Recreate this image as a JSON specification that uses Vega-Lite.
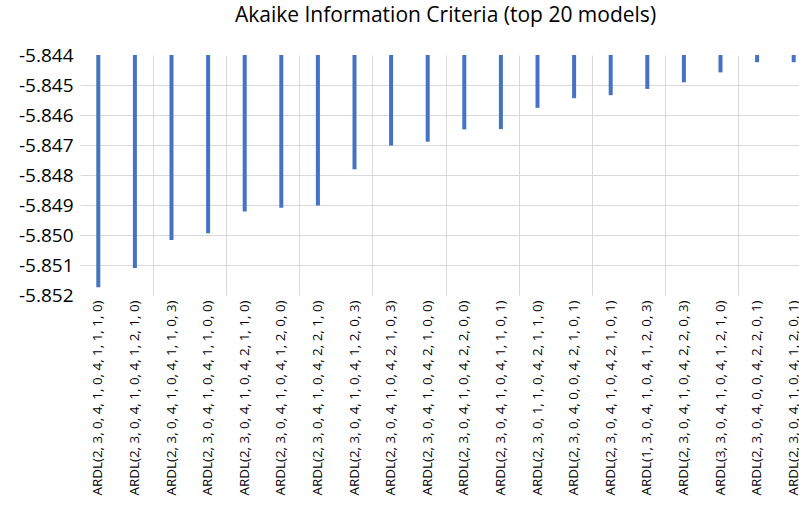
{
  "$schema": "https://vega.github.io/schema/vega-lite/v6.json",
  "autosize": "none",
  "width": 719,
  "height": 240,
  "padding": {"left": 80, "top": 55, "right": 0, "bottom": 215},
  "background": "white",
  "title": {
    "text": "Akaike Information Criteria (top 20 models)",
    "font": "Open Sans",
    "fontSize": 21,
    "fontWeight": "normal",
    "color": "#000000",
    "anchor": "middle",
    "dx": 6,
    "offset": 20
  },
  "data": {
    "values": [
      {"model": "ARDL(2, 3, 0, 4, 1, 0, 4, 1, 1, 1, 0)", "aic": -5.85174},
      {"model": "ARDL(2, 3, 0, 4, 1, 0, 4, 1, 2, 1, 0)", "aic": -5.8511},
      {"model": "ARDL(2, 3, 0, 4, 1, 0, 4, 1, 1, 0, 3)", "aic": -5.85017},
      {"model": "ARDL(2, 3, 0, 4, 1, 0, 4, 1, 1, 0, 0)", "aic": -5.84994},
      {"model": "ARDL(2, 3, 0, 4, 1, 0, 4, 2, 1, 1, 0)", "aic": -5.84922},
      {"model": "ARDL(2, 3, 0, 4, 1, 0, 4, 1, 2, 0, 0)", "aic": -5.84909},
      {"model": "ARDL(2, 3, 0, 4, 1, 0, 4, 2, 2, 1, 0)", "aic": -5.84902},
      {"model": "ARDL(2, 3, 0, 4, 1, 0, 4, 1, 2, 0, 3)", "aic": -5.84781},
      {"model": "ARDL(2, 3, 0, 4, 1, 0, 4, 2, 1, 0, 3)", "aic": -5.84702},
      {"model": "ARDL(2, 3, 0, 4, 1, 0, 4, 2, 1, 0, 0)", "aic": -5.84689},
      {"model": "ARDL(2, 3, 0, 4, 1, 0, 4, 2, 2, 0, 0)", "aic": -5.84648},
      {"model": "ARDL(2, 3, 0, 4, 1, 0, 4, 1, 1, 0, 1)", "aic": -5.84647},
      {"model": "ARDL(2, 3, 0, 1, 1, 0, 4, 2, 1, 1, 0)", "aic": -5.84576},
      {"model": "ARDL(2, 3, 0, 4, 0, 0, 4, 2, 1, 0, 1)", "aic": -5.84544},
      {"model": "ARDL(2, 3, 0, 4, 1, 0, 4, 2, 1, 0, 1)", "aic": -5.84534},
      {"model": "ARDL(1, 3, 0, 4, 1, 0, 4, 1, 2, 0, 3)", "aic": -5.84513},
      {"model": "ARDL(2, 3, 0, 4, 1, 0, 4, 2, 2, 0, 3)", "aic": -5.84491},
      {"model": "ARDL(3, 3, 0, 4, 1, 0, 4, 1, 2, 1, 0)", "aic": -5.84458},
      {"model": "ARDL(2, 3, 0, 4, 0, 0, 4, 2, 2, 0, 1)", "aic": -5.84424},
      {"model": "ARDL(2, 3, 0, 4, 1, 0, 4, 1, 2, 0, 1)", "aic": -5.84424}
    ]
  },
  "layer": [
    {
      "mark": {"type": "bar", "size": 4, "color": "#4472C4"},
      "encoding": {
        "x": {
          "field": "model",
          "type": "nominal",
          "sort": null,
          "scale": {"range": [0, 732], "paddingInner": 0, "paddingOuter": 0},
          "axis": {
            "title": null,
            "labelAngle": -90,
            "labelFont": "Open Sans",
            "labelFontSize": 13.4,
            "labelColor": "#000000",
            "labelPadding": 5,
            "labelBound": false,
            "labelOverlap": false,
            "ticks": false,
            "domain": false,
            "grid": false,
            "labelLimit": 300
          }
        },
        "y": {
          "field": "aic",
          "type": "quantitative",
          "scale": {"domain": [-5.852, -5.844], "zero": false, "nice": false},
          "axis": {
            "title": null,
            "values": [-5.852, -5.851, -5.85, -5.849, -5.848, -5.847, -5.846, -5.845, -5.844],
            "labelExpr": "replace(format(datum.value, '.3f'), '\u2212', '-')",
            "labelFont": "Open Sans",
            "labelFontSize": 19,
            "labelColor": "#000000",
            "labelPadding": 7,
            "labelOverlap": false,
            "labelBound": false,
            "labelFlush": false,
            "ticks": false,
            "domain": false,
            "grid": true,
            "gridColor": "#D9D9D9",
            "gridOpacity": {"condition": {"test": "datum.value > -5.8441 || datum.value < -5.8519", "value": 0}, "value": 1}
          }
        },
        "y2": {"datum": -5.844}
      }
    },
    {
      "mark": {"type": "rule", "opacity": 0},
      "encoding": {
        "x": {
          "field": "model",
          "type": "nominal",
          "sort": null,
          "axis": {
            "orient": "top",
            "title": null,
            "labels": false,
            "ticks": false,
            "domain": false,
            "grid": true,
            "gridColor": "#D9D9D9",
            "bandPosition": 0,
            "values": [
              "ARDL(2, 3, 0, 4, 1, 0, 4, 1, 1, 0, 3)",
              "ARDL(2, 3, 0, 4, 1, 0, 4, 2, 1, 1, 0)",
              "ARDL(2, 3, 0, 4, 1, 0, 4, 2, 2, 1, 0)",
              "ARDL(2, 3, 0, 4, 1, 0, 4, 2, 1, 0, 3)",
              "ARDL(2, 3, 0, 4, 1, 0, 4, 2, 2, 0, 0)",
              "ARDL(2, 3, 0, 1, 1, 0, 4, 2, 1, 1, 0)",
              "ARDL(2, 3, 0, 4, 1, 0, 4, 2, 1, 0, 1)",
              "ARDL(2, 3, 0, 4, 1, 0, 4, 2, 2, 0, 3)",
              "ARDL(2, 3, 0, 4, 0, 0, 4, 2, 2, 0, 1)"
            ]
          }
        }
      }
    }
  ],
  "resolve": {"axis": {"x": "independent"}},
  "config": {"view": {"stroke": null}}
}
